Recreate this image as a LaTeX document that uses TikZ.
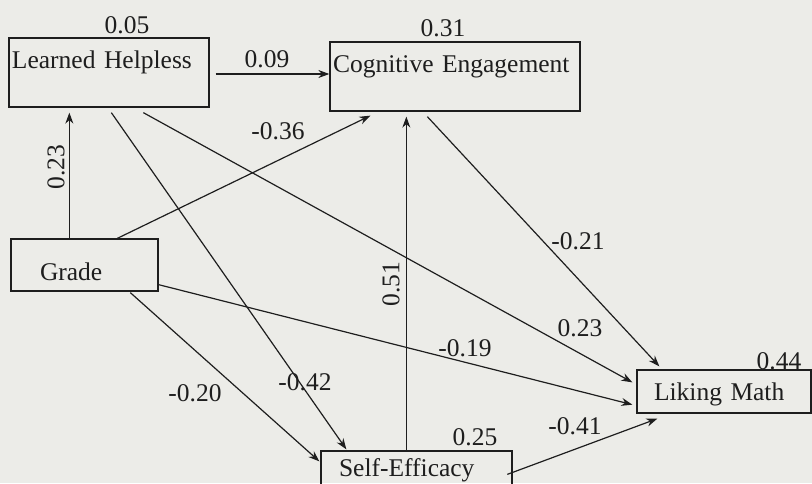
\documentclass[tikz,border=0pt]{standalone}
\usepackage{fontspec}
\setmainfont{Liberation Serif}
\usepackage{xcolor}
\usepackage{tikz}
\usetikzlibrary{arrows.meta,positioning,calc}
\definecolor{paper}{RGB}{236,236,232}
\definecolor{ink}{RGB}{30,30,30}
\newcommand{\diagfont}{\fontsize{25.5}{30}\selectfont}

\begin{document}
\begin{tikzpicture}[x=1pt,y=-1pt,
    var/.style={draw=ink,line width=1.3pt,inner ysep=0pt,align=left,text=ink,font=\diagfont},
    coef/.style={inner sep=0pt,text=ink,font=\diagfont},
    path/.style={draw=ink,line width=1.2pt,-{Stealth[length=11pt,width=8pt]}}]
            \clip (0,0) rectangle (812,483);
            \fill[paper] (0,0) rectangle (812,483);
            \node[var,inner xsep=3pt,text width=194pt,text height=30pt,text depth=39pt] (lh) at (109,72.5) {Learned Helpless};
            \node[var,inner xsep=3pt,text width=244pt,text height=30pt,text depth=39pt] (ce) at (455,76.5) {Cognitive Engagement};
            \node[var,inner xsep=29pt,text width=89pt,text height=41pt,text depth=11pt] (grade) at (84.5,265) {Grade};
            \node[var,inner xsep=17pt,text width=140pt,text height=30pt,text depth=13pt] (lm) at (724,391.5) {Liking Math};
            \node[var,inner xsep=18pt,text width=155pt,text height=25pt,text depth=19pt] (se) at (416.5,473) {Self-Efficacy};
            \draw[path] ($(lh.east)+(6,1.5)$) -- ($(ce.west)+(0,-2.5)$);
            \draw[path] ($(grade.north west)+(59,0)$) -- ($(lh.south west)+(61,5)$);
            \draw[path] ($(grade.north west)+(107,0)$) -- ($(ce.south west)+(41,4)$);
            \draw[path] ($(lh.south west)+(103,5)$) -- ($(se.north west)+(26,-1)$);
            \draw[path] ($(lh.south west)+(135,5)$) -- ($(lm.north west)+(-4,13)$);
            \draw[path] ($(ce.south west)+(98,5)$) -- ($(lm.north west)+(23,-3)$);
            \draw[path] ($(grade.south east)+(0,-7)$) -- ($(lm.south west)+(-4,-9)$);
            \draw[path] ($(grade.south west)+(120,1)$) -- ($(se.north west)+(-1,11)$);
            \draw[path] ($(se.north west)+(86,0)$) -- ($(ce.south west)+(77,5)$);
            \draw[path] ($(se.north west)+(187,24)$) -- ($(lm.south west)+(21,5)$);
            \node[coef] at (127,25) {0.05};
            \node[coef] at (443,28) {0.31};
            \node[coef] at (267,59) {0.09};
            \node[coef,rotate=90] at (56,167) {0.23};
            \node[coef] at (278,131) {-0.36};
            \node[coef] at (305,382) {-0.42};
            \node[coef] at (195,393) {-0.20};
            \node[coef,rotate=90] at (391,284) {0.51};
            \node[coef] at (465,348) {-0.19};
            \node[coef] at (580,328) {0.23};
            \node[coef] at (578,241) {-0.21};
            \node[coef] at (575,426) {-0.41};
            \node[coef] at (475,437) {0.25};
            \node[coef] at (779,361) {0.44};
        \end{tikzpicture}
\end{document}
